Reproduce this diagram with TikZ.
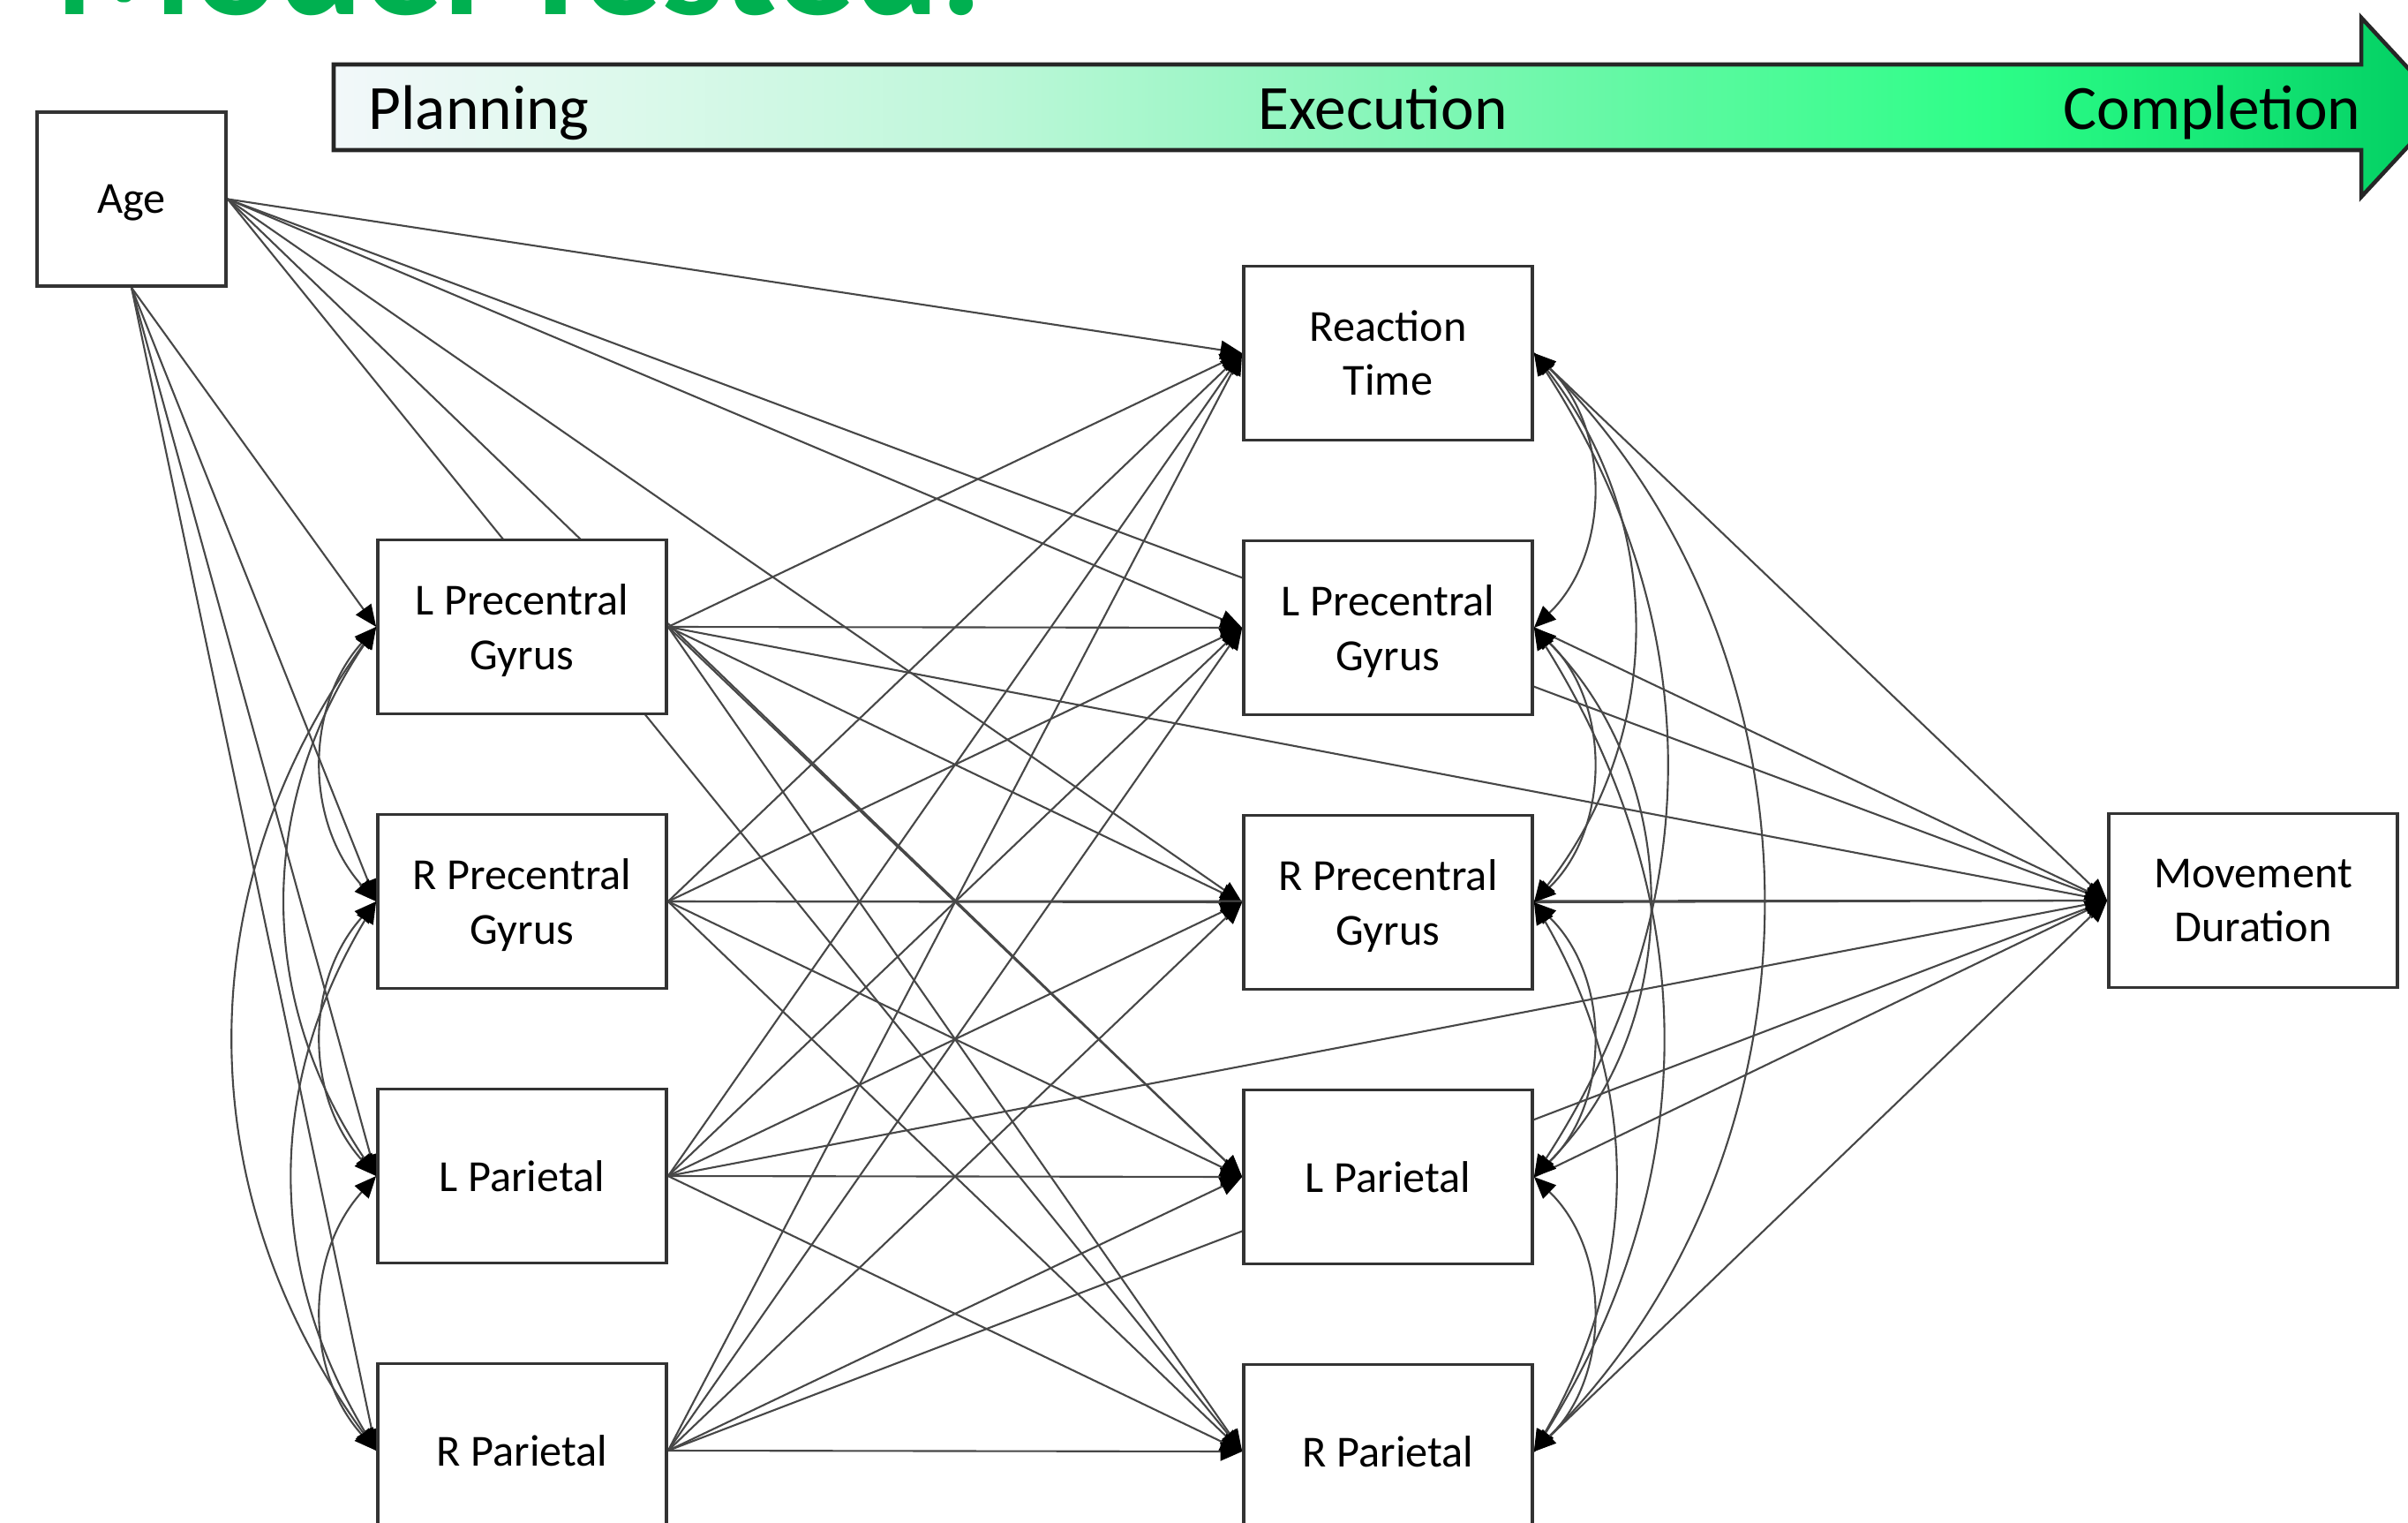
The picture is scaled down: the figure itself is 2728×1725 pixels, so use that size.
\documentclass[tikz,border=0pt]{standalone}
\usepackage{fontspec}
\setmainfont{Carlito}
\usetikzlibrary{arrows.meta}

\definecolor{titlegreen}{HTML}{00B050}
\definecolor{gA}{HTML}{F2F8FA}
\definecolor{gB}{HTML}{DDF9EC}
\definecolor{gC}{HTML}{BFF7DA}
\definecolor{gD}{HTML}{8FF6BE}
\definecolor{gE}{HTML}{5CF9A0}
\definecolor{gF}{HTML}{2EFE88}
\definecolor{gG}{HTML}{18EA78}
\definecolor{gH}{HTML}{00CC60}

% left-to-right fill of the phase banner (25bp..75bp spans the shape)
\pgfdeclarehorizontalshading{bannershade}{100bp}{%
  color(0bp)=(gA); color(25bp)=(gA); color(31.7bp)=(gB); color(40.1bp)=(gC);
  color(48.5bp)=(gD); color(56.8bp)=(gE); color(64.1bp)=(gF); color(69.4bp)=(gG);
  color(75bp)=(gH); color(100bp)=(gH)}

\pgfdeclarelayer{edges}
\pgfsetlayers{edges,main}

\tikzset{
  headtip/.tip={Triangle[length=7pt,width=6pt,color=black]},
  varbox/.style={draw=black!80, line width=1pt, fill=white,
    minimum width=3.27cm, minimum height=1.97cm, inner sep=0pt, align=center,
    text depth=0pt, font=\fontsize{14.3}{17.4}\selectfont},
  phase/.style={anchor=base west, inner sep=0pt, font=\fontsize{20.3}{24}\selectfont},
  effect/.style={draw=black!72, line width=0.6pt, -{headtip}},
  covar/.style={draw=black!72, line width=0.6pt, {headtip}-{headtip}},
}

\begin{document}
\begin{tikzpicture}[x=0.01cm, y=-0.01cm]
\useasboundingbox (0,0) rectangle (2728,1725);
\clip (0,0) rectangle (2728,1725);

% heading
\node[anchor=base west, inner sep=0pt, text=titlegreen] (title) at (62,17)
  {\resizebox{10.5cm}{!}{\bfseries Model Tested:}};

% phase banner
\shadedraw[shading=bannershade, draw=black!85, line width=1.3pt]
  (378,73) -- (2675,73) -- (2675,20) -- (2769,121.5) -- (2675,223) -- (2675,170) -- (378,170) -- cycle;
\node[phase] (planning) at (417,147) {Planning};
\node[phase] (execution) at (1425,147) {Execution};
\node[phase] (completion) at (2337,147) {Completion};

% covariate
\node[varbox, minimum width=2.14cm] (age) at (149,225.5) {Age};

% planning-phase regions
\node[varbox] (lpcA) at (591.5,710) {L Precentral\\Gyrus};
\node[varbox] (rpcA) at (591.5,1021) {R Precentral\\Gyrus};
\node[varbox] (lpaA) at (591.5,1332) {L Parietal};
\node[varbox] (rpaA) at (591.5,1643) {R Parietal};

% execution-phase measures
\node[varbox] (rt)   at (1572.5,400) {Reaction\\Time};
\node[varbox] (lpcB) at (1572.5,711) {L Precentral\\Gyrus};
\node[varbox] (rpcB) at (1572.5,1022) {R Precentral\\Gyrus};
\node[varbox] (lpaB) at (1572.5,1333) {L Parietal};
\node[varbox] (rpaB) at (1572.5,1644) {R Parietal};

% outcome
\node[varbox] (md) at (2552.5,1020) {Movement\\Duration};

\begin{pgfonlayer}{edges}
  % age effects
  \foreach \t in {lpcA,rpcA,lpaA,rpaA}
    \draw[effect] (age.south) -- (\t.west);
  \foreach \t in {rt,lpcB,rpcB,lpaB,rpaB,md}
    \draw[effect] (age.east) -- (\t.west);
  % planning regions -> execution measures and duration
  \foreach \s in {lpcA,rpcA,lpaA,rpaA}
    \foreach \t in {rt,lpcB,rpcB,lpaB,rpaB,md}
      \draw[effect] (\s.east) -- (\t.west);
  % execution measures -> duration
  \foreach \s in {rt,lpcB,rpcB,lpaB,rpaB}
    \draw[effect] (\s.east) -- (md.west);

  % covariances among planning regions
  \draw[covar] (lpcA.west) to[bend right=42] (rpcA.west);
  \draw[covar] (rpcA.west) to[bend right=42] (lpaA.west);
  \draw[covar] (lpaA.west) to[bend right=42] (rpaA.west);
  \draw[covar] (lpcA.west) to[bend right=34] (lpaA.west);
  \draw[covar] (rpcA.west) to[bend right=31] (rpaA.west);
  \draw[covar] (lpcA.west) to[bend right=36] (rpaA.west);

  % covariances among execution measures
  \draw[covar] (rt.east)   to[bend left=46] (lpcB.east);
  \draw[covar] (lpcB.east) to[bend left=46] (rpcB.east);
  \draw[covar] (rpcB.east) to[bend left=46] (lpaB.east);
  \draw[covar] (lpaB.east) to[bend left=46] (rpaB.east);
  \draw[covar] (rt.east)   to[bend left=38] (rpcB.east);
  \draw[covar] (lpcB.east) to[bend left=45] (lpaB.east);
  \draw[covar] (rpcB.east) to[bend left=30] (rpaB.east);
  \draw[covar] (rt.east)   to[bend left=33] (lpaB.east);
  \draw[covar] (lpcB.east) to[bend left=32] (rpaB.east);
  \draw[covar] (rt.east)   to[bend left=45] (rpaB.east);
\end{pgfonlayer}
\end{tikzpicture}
\end{document}
